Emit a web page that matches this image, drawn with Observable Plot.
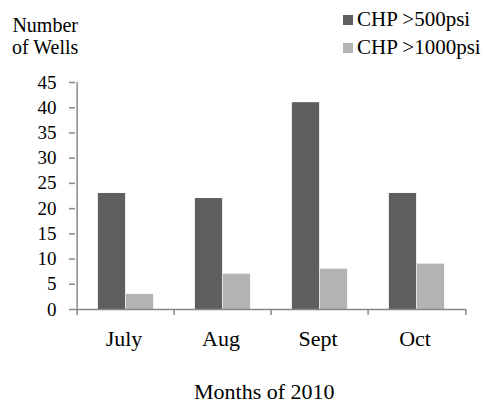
<!DOCTYPE html>
<html><head><meta charset="utf-8">
<script src="https://cdn.jsdelivr.net/npm/d3@7"></script>
<script src="https://cdn.jsdelivr.net/npm/@observablehq/plot@0.6"></script>
<style>
body{margin:0;background:#fff;}
#wrap{position:relative;width:484px;height:405px;font-family:"Liberation Serif",serif;font-size:21px;color:#000;overflow:hidden;}
.abs{position:absolute;white-space:nowrap;}
.sw{display:inline-block;width:10px;height:10px;margin-right:4px;margin-bottom:1px;vertical-align:baseline;}
</style></head><body>
<div id="wrap">
<div class="abs" style="left:12px;top:13.6px;line-height:22.2px;font-size:20px;text-align:center;">Number<br>of Wells</div>
<div class="abs" id="legend" style="left:343px;top:6px;line-height:27.5px;"></div>
<div class="abs" style="left:194px;top:380px;line-height:24px;font-size:22px;">Months of 2010</div>
</div>
<script>
const months = ["July", "Aug", "Sept", "Oct"];
const chp500 = [23, 22, 41, 23];
const chp1000 = [3, 7, 8, 9];
const seriesNames = ["CHP >500psi", "CHP >1000psi"];
const yTicks = [0, 5, 10, 15, 20, 25, 30, 35, 40, 45];
const colors = ["#5f5f5f", "#b3b3b3"];

const data = months.map((m, i) => ({month: m, v500: chp500[i], v1000: chp1000[i]}));

const W = 484, H = 405, mL = 75, mR = 18, mT = 82, mB = 96;
const band = (W - mL - mR) / months.length;
const barW = 28;
const outer = (band - 2 * barW) / 2;
const axisColor = "#888";

const svg = Plot.plot({
  width: W, height: H,
  marginLeft: mL, marginRight: mR, marginTop: mT, marginBottom: mB,
  style: {fontFamily: "Liberation Serif", fontSize: "19px", color: "#000", background: "transparent"},
  x: {type: "band", domain: months, padding: 0, label: null},
  y: {domain: [0, 45], label: null},
  marks: [
    Plot.barY(data, {x: "month", y: "v500", fill: colors[0], insetLeft: outer, insetRight: outer + barW}),
    Plot.barY(data, {x: "month", y: "v1000", fill: colors[1], insetLeft: outer + barW, insetRight: outer}),
    Plot.ruleY([0], {stroke: axisColor, strokeWidth: 1.5}),
    Plot.ruleX([months[0]], {x: d => d, dx: -band / 2, y1: 0, y2: 45, stroke: axisColor, strokeWidth: 1.5}),
    Plot.axisX({ticks: months, tickSize: 6, tickFormat: () => "", dx: -band / 2, stroke: axisColor, strokeWidth: 1.5, label: null}),
    Plot.axisX({ticks: [months[months.length - 1]], tickSize: 6, tickFormat: () => "", dx: band / 2, stroke: axisColor, strokeWidth: 1.5, label: null}),
    Plot.axisX({ticks: months, tickSize: 0, tickPadding: 21, fill: "#000", fontSize: 22, dx: -2, label: null}),
    Plot.axisY({ticks: yTicks, tickSize: 6, tickPadding: 13, stroke: axisColor, strokeWidth: 1.5, fill: "#000", label: null})
  ]
});
document.getElementById("wrap").prepend(svg);

const legend = document.getElementById("legend");
seriesNames.forEach((name, i) => {
  const row = document.createElement("div");
  const sw = document.createElement("span");
  sw.className = "sw";
  sw.style.background = colors[i];
  row.appendChild(sw);
  row.appendChild(document.createTextNode(name));
  legend.appendChild(row);
});
</script>
</body></html>
